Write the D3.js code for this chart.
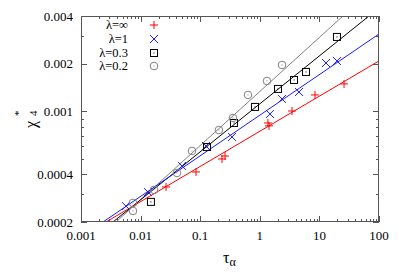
<!DOCTYPE html>
<html><head><meta charset="utf-8">
<script src="https://cdn.jsdelivr.net/npm/d3@7/dist/d3.min.js"></script>
<style>body{margin:0;background:#fff}svg{display:block}</style>
</head><body><svg id="c" width="399" height="279" font-family="Liberation Serif"></svg>
<script>
const xTickVals = [0.001, 0.01, 0.1, 1, 10, 100];
const xTickLabels = ["0.001", "0.01", "0.1", "1", "10", "100"];
const yTickVals = [0.0002, 0.0004, 0.001, 0.002, 0.004];
const yTickLabels = ["0.0002", "0.0004", "0.001", "0.002", "0.004"];
const seriesNames = ["λ=∞", "λ=1", "λ=0.3", "λ=0.2"];
const redTau = [0.0267, 0.0851, 0.232, 0.261, 1.37, 1.43, 3.47, 8.43, 25.9];
const redChi = [0.000333, 0.000414, 0.000500, 0.000522, 0.000844, 0.000809, 0.001005, 0.001269, 0.001489];
const blueTau = [0.00569, 0.0133, 0.0495, 0.125, 0.342, 1.48, 2.36, 4.55, 12.9, 19.7];
const blueChi = [0.000252, 0.000309, 0.000452, 0.000604, 0.000689, 0.000962, 0.001197, 0.001325, 0.00202, 0.00208];
const blackTau = [0.0149, 0.130, 0.369, 0.830, 2.02, 3.75, 5.96, 19.7];
const blackChi = [0.000268, 0.000595, 0.000844, 0.001066, 0.001385, 0.001578, 0.001773, 0.00295];
const grayTau = [0.00745, 0.00745, 0.0168, 0.0408, 0.0728, 0.206, 0.355, 0.634, 1.32, 2.36];
const grayChi = [0.000235, 0.000264, 0.000319, 0.000408, 0.000562, 0.000762, 0.000908, 0.001269, 0.001555, 0.001962];
// fit line endpoints [tau, chi]
const redFit = [[0.00263, 0.0002], [100, 0.00208]];
const blueFit = [[0.00234, 0.0002], [100, 0.00308]];
const blackFit = [[0.00344, 0.0002], [67.9, 0.004]];
const grayFit = [[0.00386, 0.0002], [24.9, 0.004]];

const L = 81, R = 379, T = 16, B = 222;
const svg = d3.select("#c");
const x = d3.scaleLog().domain([0.001, 100]).range([L, R]);
const y = d3.scaleLog().domain([0.0002, 0.004]).range([B, T]);

const series = [
  {name: seriesNames[0], tau: redTau, chi: redChi, fit: redFit, color: "#ff0000", shape: "plus"},
  {name: seriesNames[1], tau: blueTau, chi: blueChi, fit: blueFit, color: "#1a1aff", shape: "cross"},
  {name: seriesNames[2], tau: blackTau, chi: blackChi, fit: blackFit, color: "#000000", shape: "square"},
  {name: seriesNames[3], tau: grayTau, chi: grayChi, fit: grayFit, color: "#808080", shape: "circle"}
];

svg.append("defs").append("clipPath").attr("id", "clip")
  .append("rect").attr("x", L).attr("y", T).attr("width", R - L).attr("height", B - T);

// minor ticks
const xMinor = [], yMinor = [];
for (let e = -3; e < 2; e++) for (let m = 2; m <= 9; m++) xMinor.push(m * Math.pow(10, e));
for (let e = -4; e < -2; e++) for (let m = 1; m <= 9; m++) {
  const v = m * Math.pow(10, e);
  if (v >= 0.0002 * 0.999 && v <= 0.004 * 1.001) yMinor.push(v);
}
const tickColor = "#555";
const tg = svg.append("g").attr("stroke", tickColor).attr("stroke-width", 1);
xMinor.forEach(v => {
  const px = Math.round(x(v)) + 0.5;
  tg.append("line").attr("x1", px).attr("x2", px).attr("y1", B).attr("y2", B - 3);
  tg.append("line").attr("x1", px).attr("x2", px).attr("y1", T).attr("y2", T + 3);
});
xTickVals.forEach(v => {
  const px = Math.round(x(v)) + 0.5;
  tg.append("line").attr("x1", px).attr("x2", px).attr("y1", B).attr("y2", B - 6);
  tg.append("line").attr("x1", px).attr("x2", px).attr("y1", T).attr("y2", T + 6);
});
yMinor.forEach(v => {
  const py = Math.round(y(v)) + 0.5;
  tg.append("line").attr("x1", L).attr("x2", L + 3).attr("y1", py).attr("y2", py);
  tg.append("line").attr("x1", R).attr("x2", R - 3).attr("y1", py).attr("y2", py);
});
yTickVals.forEach(v => {
  const py = Math.round(y(v)) + 0.5;
  tg.append("line").attr("x1", L).attr("x2", L + 6).attr("y1", py).attr("y2", py);
  tg.append("line").attr("x1", R).attr("x2", R - 6).attr("y1", py).attr("y2", py);
});

// tick labels
xTickVals.forEach((v, i) => {
  svg.append("text").attr("x", x(v)).attr("y", 240).attr("text-anchor", "middle")
    .attr("font-size", 13).text(xTickLabels[i]);
});
yTickVals.forEach((v, i) => {
  svg.append("text").attr("x", 73).attr("y", y(v) + 4.5).attr("text-anchor", "end")
    .attr("font-size", 13).text(yTickLabels[i]);
});

// fit lines
const plot = svg.append("g").attr("clip-path", "url(#clip)");
const line = d3.line().x(d => x(d[0])).y(d => y(d[1]));
series.slice().reverse().forEach(s => {
  plot.append("path").attr("d", line(s.fit)).attr("fill", "none")
    .attr("stroke", s.color).attr("stroke-width", 1);
});

function marker(g, shape, cx, cy, color) {
  const r = 4;
  if (shape === "plus") {
    g.append("path").attr("d", `M${cx - r},${cy}H${cx + r}M${cx},${cy - r}V${cy + r}`)
      .attr("stroke", color).attr("stroke-width", 1).attr("fill", "none");
  } else if (shape === "cross") {
    g.append("path").attr("d", `M${cx - r},${cy - r}L${cx + r},${cy + r}M${cx - r},${cy + r}L${cx + r},${cy - r}`)
      .attr("stroke", color).attr("stroke-width", 1).attr("fill", "none");
  } else if (shape === "square") {
    g.append("rect").attr("x", cx - 3.5).attr("y", cy - 3.5).attr("width", 7).attr("height", 7)
      .attr("stroke", color).attr("stroke-width", 1).attr("fill", "none");
    g.append("rect").attr("x", cx - 0.5).attr("y", cy - 0.5).attr("width", 1).attr("height", 1).attr("fill", color);
  } else {
    g.append("circle").attr("cx", cx).attr("cy", cy).attr("r", 3.8)
      .attr("stroke", color).attr("stroke-width", 1).attr("fill", "none");
    g.append("rect").attr("x", cx - 0.5).attr("y", cy - 0.5).attr("width", 1).attr("height", 1).attr("fill", color);
  }
}

series.forEach(s => {
  const g = plot.append("g");
  s.tau.forEach((t, i) => marker(g, s.shape, x(t), y(s.chi[i]), s.color));
});

// frame
svg.append("rect").attr("x", L + 0.5).attr("y", T + 0.5).attr("width", R - L - 1).attr("height", B - T - 1)
  .attr("fill", "none").attr("stroke", tickColor).attr("stroke-width", 1);

// legend
const legY = [25, 39, 53, 66];
series.forEach((s, i) => {
  svg.append("text").attr("x", 128).attr("y", legY[i] + 4).attr("text-anchor", "end")
    .attr("font-size", 12.5).text(s.name);
  marker(svg, s.shape, 154, legY[i], s.color);
});

// axis labels
const xl = svg.append("text").attr("x", 223).attr("y", 263).attr("font-size", 16);
xl.append("tspan").text("τ");
xl.append("tspan").attr("font-size", 12).attr("dy", 3).text("α");

svg.append("text").attr("transform", "translate(36,128) rotate(-90)").attr("font-size", 16).text("χ");
svg.append("text").attr("transform", "translate(37,116) rotate(-90)").attr("font-size", 11).text("4");
svg.append("text").attr("transform", "translate(22,116) rotate(-90)").attr("font-size", 11).text("*");
</script></body></html>
